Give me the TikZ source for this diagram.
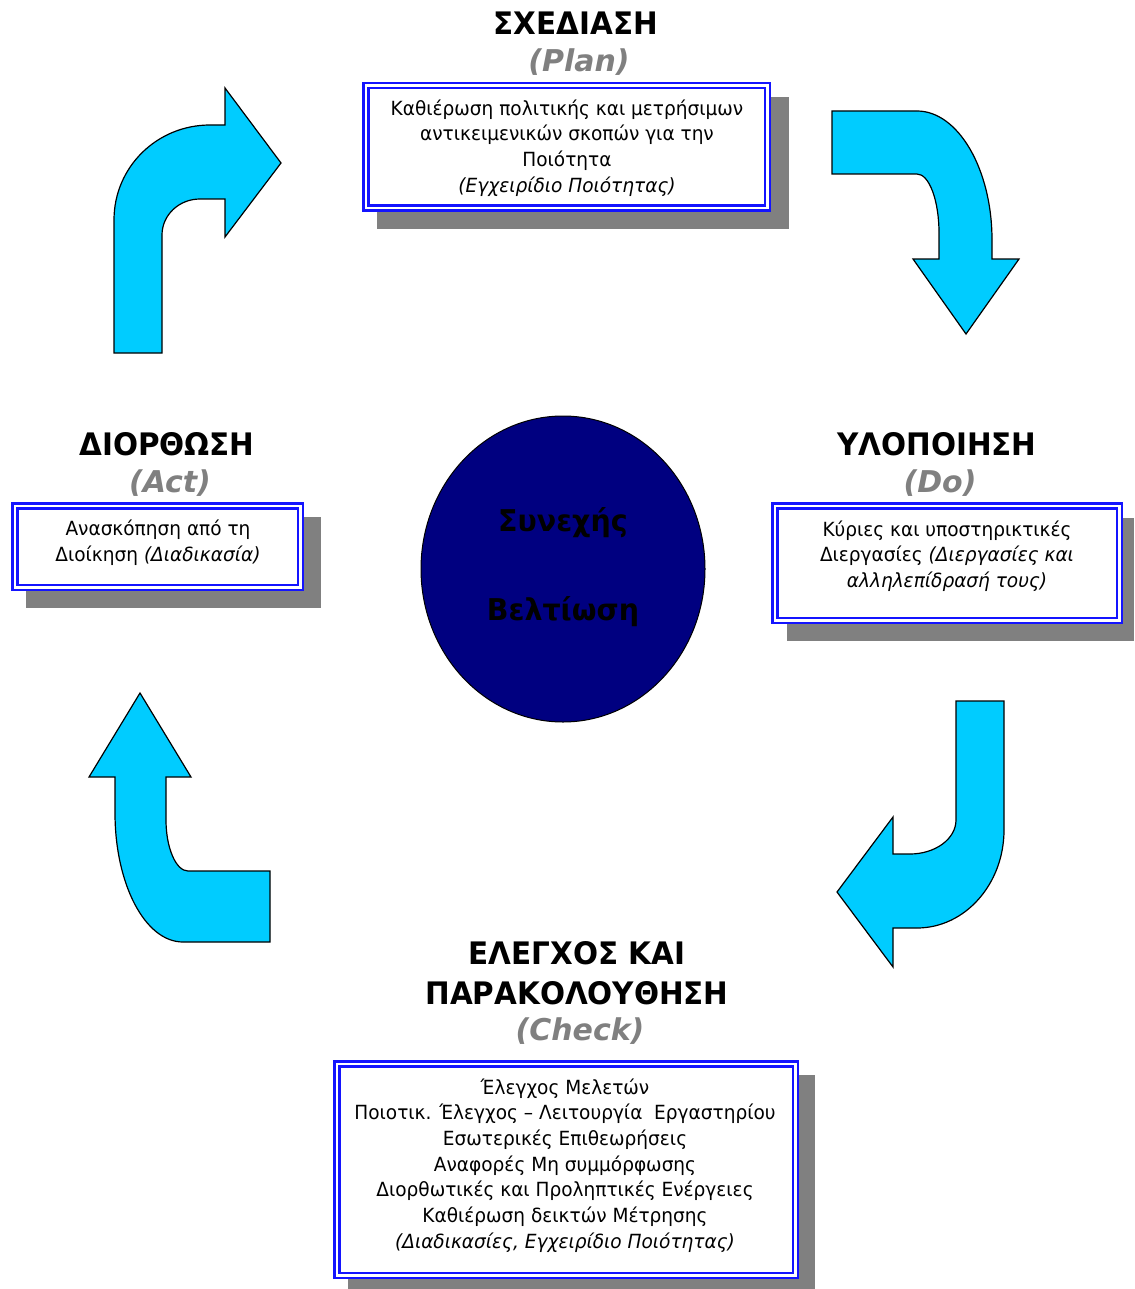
\documentclass[tikz,border=0pt]{standalone}
\usepackage{fontspec}
\setmainfont{DejaVu Sans}[FakeStretch=0.95]
\newfontfamily\headfont{DejaVu Sans}[FakeStretch=0.95]
\newfontfamily\subfont{DejaVu Sans}[FakeStretch=1.0]
\newfontfamily\circfont{DejaVu Sans}[FakeStretch=0.95]
\usetikzlibrary{shapes.geometric}
\definecolor{arrowcyan}{RGB}{0,204,255}
\definecolor{navyfill}{RGB}{0,0,128}
\definecolor{frameblue}{RGB}{20,20,255}
\definecolor{shadowgray}{RGB}{128,128,128}
\definecolor{subgray}{RGB}{128,128,128}
\tikzset{
  bentarrow/.style={fill=arrowcyan, draw=black, line width=1.2pt, line join=miter},
  shadowfill/.style={fill=shadowgray},
  framebox/.style={draw=frameblue, fill=white, line width=2.5pt, double=white, double distance=2.5pt, inner sep=0pt},
  heading/.style={font=\headfont\fontsize{31}{36}\selectfont\bfseries, text=black, inner sep=0pt, align=center},
  subhead/.style={font=\subfont\fontsize{30}{36}\selectfont\bfseries\itshape, text=subgray, inner sep=0pt},
  bodytext/.style={font=\fontsize{19.5}{25.7}\selectfont, align=center, inner sep=0pt},
  circtext/.style={font=\circfont\fontsize{30}{34}\selectfont\bfseries, text=black, inner sep=0pt}
}
\begin{document}
\begin{tikzpicture}[x=1pt, y=-1pt]
\useasboundingbox (0,0) rectangle (1134,1289);

% shadows
\fill[shadowfill] (377,97) rectangle (789,229);
\fill[shadowfill] (26,517) rectangle (321,608);
\fill[shadowfill] (787,518) rectangle (1134,641);
\fill[shadowfill] (348,1075) rectangle (815,1289);

% headings
\node[heading] (planhead) at (576,23) {ΣΧΕΔΙΑΣΗ};
\node[subhead] (plansub) at (579,62) {(Plan)};
\node[heading] (acthead) at (167,444) {ΔΙΟΡΘΩΣΗ};
\node[subhead] (actsub) at (170,483) {(Act)};
\node[heading] (dohead) at (937,444) {ΥΛΟΠΟΙΗΣΗ};
\node[subhead] (dosub) at (940,483) {(Do)};
\node[heading] (checkhead1) at (577,953) {ΕΛΕΓΧΟΣ ΚΑΙ};
\node[heading] (checkhead2) at (577,993) {ΠΑΡΑΚΟΛΟΥΘΗΣΗ};
\node[subhead] (checksub) at (580,1031) {(Check)};

% frames
\node[framebox, minimum width=401.5pt, minimum height=122.5pt] (planbox) at (566.5,147) {};
\node[framebox, minimum width=285.5pt, minimum height=81.5pt] (actbox) at (157.5,546.5) {};
\node[framebox, minimum width=344.5pt, minimum height=114.5pt] (dobox) at (947,563) {};
\node[framebox, minimum width=458.5pt, minimum height=211.5pt] (checkbox) at (566,1169.5) {};

% box texts
\node[bodytext] (plantext) at (567,148) {Καθιέρωση πολιτικής και μετρήσιμων\\αντικειμενικών σκοπών για την\\Ποιότητα\\\textit{(Εγχειρίδιο Ποιότητας)}};
\node[bodytext] (acttext) at (158,543) {Ανασκόπηση από τη\\Διοίκηση \textit{(Διαδικασία)}};
\node[bodytext] (dotext) at (947,556) {Κύριες και υποστηρικτικές\\Διεργασίες \textit{(Διεργασίες και}\\\textit{αλληλεπίδρασή τους)}};
\node[bodytext] (checktext) at (565,1165.5) {Έλεγχος Μελετών\\Ποιοτικ. Έλεγχος – Λειτουργία\ \ Εργαστηρίου\\Εσωτερικές Επιθεωρήσεις\\Αναφορές Μη συμμόρφωσης\\Διορθωτικές και Προληπτικές Ενέργειες\\Καθιέρωση δεικτών Μέτρησης\\\textit{(Διαδικασίες, Εγχειρίδιο Ποιότητας)}};

% centre
\node[ellipse, draw=black, line width=1pt, fill=navyfill, minimum width=284pt, minimum height=306pt, inner sep=0pt] (centre) at (563,569) {};
\node[circtext] (centretop) at (563,523) {Συνεχής};
\node[circtext] (centrebot) at (563,612) {Βελτίωση};

% bent arrows
\filldraw[bentarrow] (114,353) -- (114,220) .. controls (114,167) and (157,125) .. (210,125) -- (225,125) -- (225,88) -- (281,163) -- (225,237) -- (225,199) -- (200,199) .. controls (179,199) and (162,215) .. (162,235) -- (162,353) -- cycle;

\filldraw[bentarrow] (832,111) -- (917,111) .. controls (958,111) and (992,169) .. (992,240) -- (992,259) -- (1019,259) -- (966,334) -- (913,259) -- (939,259) -- (939,233) .. controls (939,200) and (929,174) .. (917,174) -- (832,174) -- cycle;

\filldraw[bentarrow] (956,701) -- (1004,701) -- (1004,830) .. controls (1004,884) and (965,928) .. (917,928) -- (893,928) -- (893,967) -- (837,892) -- (893,817) -- (893,854) -- (910,854) .. controls (935,854) and (956,839) .. (956,820) -- cycle;

\filldraw[bentarrow] (140,693) -- (191,777) -- (166,777) -- (166,820) .. controls (166,848) and (176,871) .. (188,871) -- (270,871) -- (270,942) -- (183,942) .. controls (145,942) and (115,884) .. (115,813) -- (115,777) -- (89,777) -- cycle;
\end{tikzpicture}
\end{document}
